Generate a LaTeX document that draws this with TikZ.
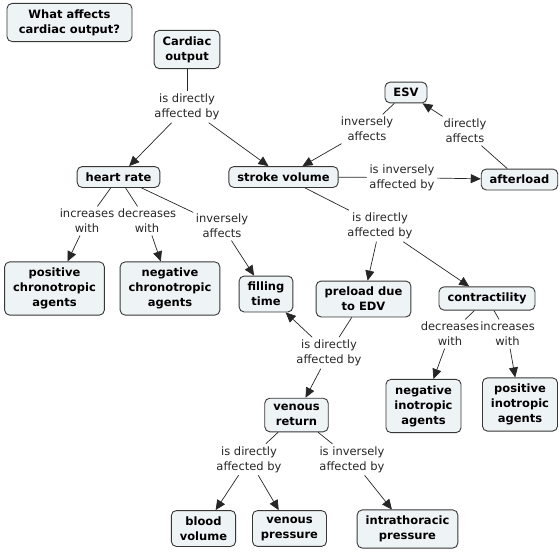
\documentclass[tikz,border=0pt]{standalone}
\usepackage{fontspec}
\setmainfont{DejaVu Sans}
\usetikzlibrary{arrows.meta}
\definecolor{cmapfill}{RGB}{238,243,245}
\definecolor{cmapline}{RGB}{55,55,55}

\begin{document}
\begin{tikzpicture}[
  x=1pt, y=-1pt,
  concept/.style={draw=cmapline, line width=0.9pt, rounded corners=5pt, fill=cmapfill,
                  align=center, font=\bfseries\fontsize{11.5}{15}\selectfont,
                  inner xsep=8.5pt, inner ysep=6pt},
  linker/.style={align=center, font=\fontsize{11.5}{15}\selectfont, text=black!85,
                 inner sep=2.5pt},
  conn/.style={line width=0.7pt, draw=black!85},
  flow/.style={conn, -{Triangle[length=10pt,width=9pt]}}
]
\useasboundingbox (0,0) rectangle (560,552);
% title and root
\node[concept, minimum width=125pt] (q) at (69.5,22.5) {What affects\\cardiac output?};
\node[concept] (co)  at (187,49.5)  {Cardiac\\output};
\node[linker]  (l1)  at (187,107)   {is directly\\affected by};
% second row
\node[concept] (hr)  at (118.5,177) {heart rate};
\node[concept] (sv)  at (283.5,177) {stroke volume};
\node[concept] (esv) at (406,92.5)  {ESV};
\node[concept] (al)  at (519.5,179.5) {afterload};
\node[linker]  (l2)  at (367,129)   {inversely\\affects};
\node[linker]  (l3)  at (465,131)   {directly\\affects};
\node[linker]  (l4)  at (402,177.5) {is inversely\\affected by};
\node[linker]  (l5)  at (380,226)   {is directly\\affected by};
% heart rate branch
\node[linker]  (l6)  at (87,221)    {increases\\with};
\node[linker]  (l7)  at (147,221)   {decreases\\with};
\node[linker]  (l8)  at (222,226)   {inversely\\affects};
\node[concept] (pca) at (54.5,288.5) {positive\\chronotropic\\agents};
\node[concept] (nca) at (170,288.5) {negative\\chronotropic\\agents};
\node[concept] (ft)  at (266,294)   {filling\\time};
% stroke volume branch
\node[concept] (pre) at (363.5,299) {preload due\\to EDV};
\node[concept] (con) at (487,298.5) {contractility};
\node[linker]  (l9)  at (329,353)   {is directly\\affected by};
\node[linker]  (l10) at (450,334)   {decreases\\with};
\node[linker]  (l11) at (507.5,334) {increases\\with};
\node[concept] (nia) at (423.5,406) {negative\\inotropic\\agents};
\node[concept] (pia) at (520,404.5) {positive\\inotropic\\agents};
% venous return branch
\node[concept] (vr)  at (296.5,415) {venous\\return};
\node[linker]  (l12) at (249,459.5) {is directly\\affected by};
\node[linker]  (l13) at (352,459.5) {is inversely\\affected by};
\node[concept] (bv)  at (203.5,528.5) {blood\\volume};
\node[concept] (vp)  at (289.5,528.5) {venous\\pressure};
\node[concept] (itp) at (407.5,529) {intrathoracic\\pressure};
% links
\draw[conn] (co) -- (l1);
\draw[flow] (l1) -- (hr);
\draw[flow] (l1) -- (sv);
\draw[conn] (esv) -- (l2);
\draw[flow] (l2) -- (sv);
\draw[conn] (al) -- (l3);
\draw[flow] (l3) -- (esv);
\draw[conn] (sv) -- (l4);
\draw[flow] (l4) -- (al);
\draw[conn] (sv) -- (l5);
\draw[flow] (l5) -- (pre);
\draw[flow] (l5) -- (con);
\draw[conn] (hr) -- (l6);
\draw[flow] (l6) -- (pca);
\draw[conn] (hr) -- (l7);
\draw[flow] (l7) -- (nca);
\draw[conn] (hr) -- (l8);
\draw[flow] (l8) -- (ft);
\draw[conn] (pre) -- (l9);
\draw[flow] (l9) -- (ft);
\draw[flow] (l9) -- (vr);
\draw[conn] (con) -- (l10);
\draw[flow] (l10) -- (nia);
\draw[conn] (con) -- (l11);
\draw[flow] (l11) -- (pia);
\draw[conn] (vr) -- (l12);
\draw[flow] (l12) -- (bv);
\draw[flow] (l12) -- (vp);
\draw[conn] (vr) -- (l13);
\draw[flow] (l13) -- (itp);
\end{tikzpicture}
\end{document}
